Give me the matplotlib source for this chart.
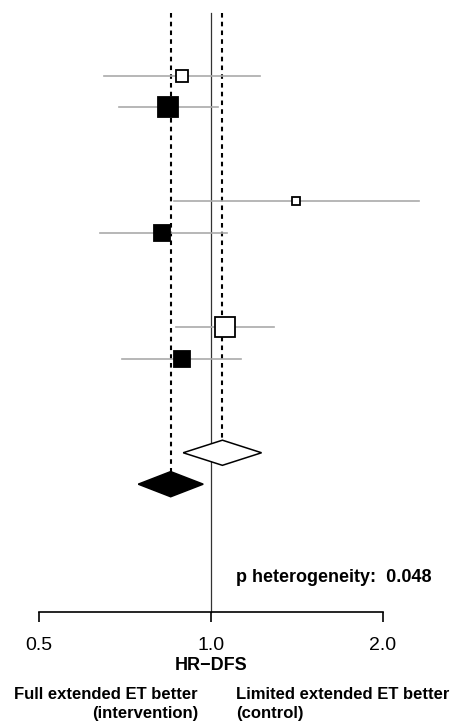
import matplotlib
matplotlib.use("Agg")
import matplotlib.pyplot as plt
from matplotlib.patches import Polygon

plt.rcParams['font.family'] = ['Liberation Sans', 'DejaVu Sans']

# Study estimates (HR-DFS with 95% CI)
hr = [0.89, 0.84, 1.41, 0.82, 1.06, 0.89]
ci_low = [0.65, 0.69, 0.86, 0.64, 0.87, 0.70]
ci_high = [1.22, 1.03, 2.31, 1.065, 1.29, 1.13]
arm_filled = [False, True, False, True, False, True]
box_weight = [13, 20, 9, 16, 21, 17]

# Pooled estimates
pooled_hr = [1.047, 0.85]
pooled_low = [0.894, 0.746]
pooled_high = [1.226, 0.969]
pooled_filled = [False, True]

x_ticks = [0.5, 1.0, 2.0]
x_tick_labels = ["0.5", "1.0", "2.0"]
x_label = "HR\u2212DFS"
p_het_label = "p heterogeneity:  0.048"
left_label = "Full extended ET better\n(intervention)"
right_label = "Limited extended ET better\n(control)"

# layout
row_slot = [0, 1, 4, 5, 8, 9]
pooled_slot = [12, 13]
W, H = 459, 722
fig = plt.figure(figsize=(W / 100, H / 100), dpi=100)
ax = fig.add_axes([39 / W, 1 - 611.7 / H, 344 / W, (611.7 - 13) / H])
ax.set_xscale('log', base=2)
ax.set_xlim(0.5, 2.0)
ax.set_ylim(17.06, -2.0)
dh = 0.4

# reference line at 1
ax.plot([1, 1], [-2.0, 17.06], color='#333333', lw=0.9, clip_on=False, zorder=1)
# pooled dashed lines
for v, s in zip(pooled_hr, pooled_slot):
    ax.plot([v, v], [-2.0, s - dh], color='black', lw=1.5, ls=(0, (2.2, 2.0)),
            clip_on=False, zorder=1)

# studies
for h, lo, hi, f, w, s in zip(hr, ci_low, ci_high, arm_filled, box_weight, row_slot):
    ax.plot([lo, hi], [s, s], color='#aaaaaa', lw=1.2, clip_on=False, zorder=2)
    ax.plot([h], [s], marker='s', ms=w / 1.389 - 0.4, mfc='black' if f else 'white',
            mec='black', mew=1.3, clip_on=False, zorder=3)

# pooled diamonds
for h, lo, hi, f, s in zip(pooled_hr, pooled_low, pooled_high, pooled_filled, pooled_slot):
    poly = Polygon([(lo, s), (h, s - dh), (hi, s), (h, s + dh)], closed=True,
                   facecolor='black' if f else 'white', edgecolor='black', lw=1.1,
                   clip_on=False, zorder=4)
    ax.add_patch(poly)

for sp in ['top', 'left', 'right']:
    ax.spines[sp].set_visible(False)
ax.spines['bottom'].set_linewidth(1.2)
ax.set_yticks([])
ax.set_xticks(x_ticks)
ax.set_xticklabels(x_tick_labels)
ax.minorticks_off()
ax.tick_params(axis='x', direction='out', length=7.2, width=1.2, pad=11, labelsize=14)
ax.patch.set_visible(False)

fig.text(211 / W, 1 - 666 / H, x_label, ha='center', va='center', fontsize=13,
         fontweight='bold')
fig.text(432 / W, 1 - 578 / H, p_het_label, ha='right', va='center', fontsize=13,
         fontweight='bold')
fig.text(198 / W, 1 - 704 / H, left_label, ha='right', va='center', fontsize=12,
         fontweight='bold', multialignment='right', linespacing=1.32)
fig.text(236 / W, 1 - 704 / H, right_label, ha='left', va='center', fontsize=12,
         fontweight='bold', multialignment='left', linespacing=1.32)

fig.savefig('out.png', dpi=100)
